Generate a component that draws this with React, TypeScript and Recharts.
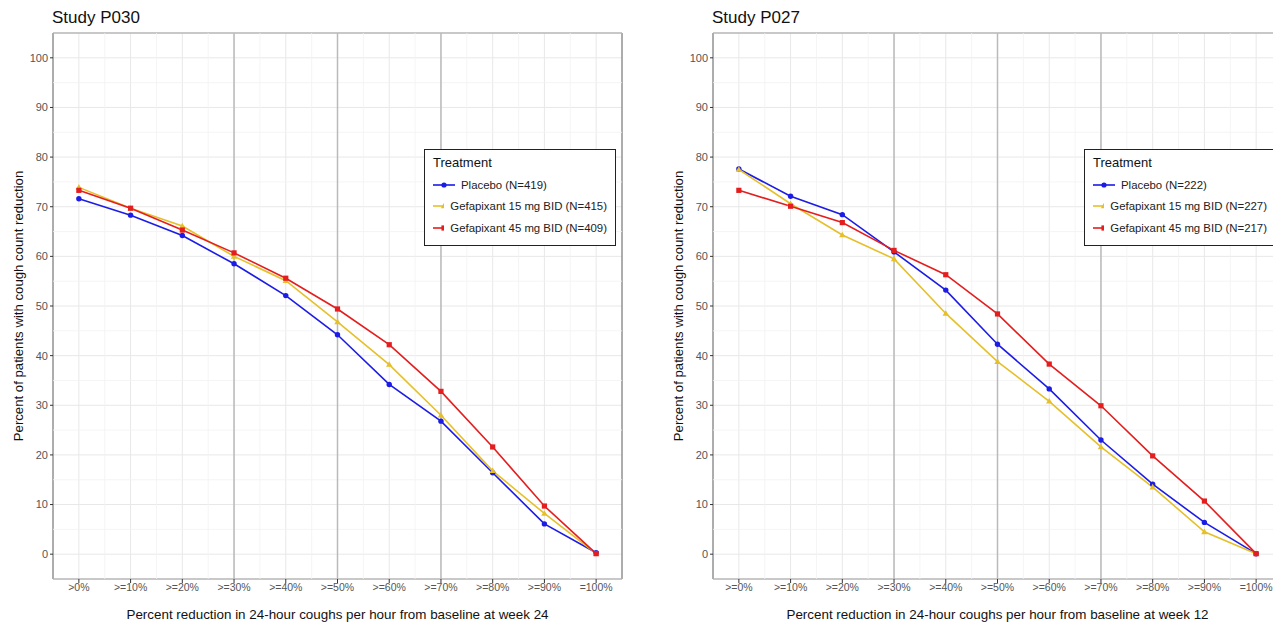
import React from "react"
import { LineChart, Line, XAxis, YAxis, CartesianGrid, ReferenceLine, ReferenceArea, Legend } from "recharts"

// category labels along the x axis
const CATS_P030 = [">0%", ">=10%", ">=20%", ">=30%", ">=40%", ">=50%", ">=60%", ">=70%", ">=80%", ">=90%", "=100%"]
const CATS_P027 = [">=0%", ">=10%", ">=20%", ">=30%", ">=40%", ">=50%", ">=60%", ">=70%", ">=80%", ">=90%", "=100%"]

// percent of patients reaching each reduction threshold
const P030_PLACEBO = [71.6, 68.3, 64.2, 58.5, 52.1, 44.2, 34.2, 26.8, 16.4, 6.1, 0.3]
const P030_G15 = [73.9, 69.7, 66.1, 60.0, 55.1, 46.8, 38.2, 28.0, 16.8, 8.2, 0.1]
const P030_G45 = [73.3, 69.7, 65.3, 60.7, 55.6, 49.4, 42.2, 32.8, 21.6, 9.7, 0.1]

const P027_PLACEBO = [77.6, 72.1, 68.4, 60.9, 53.2, 42.3, 33.3, 23.0, 14.1, 6.4, 0.1]
const P027_G15 = [77.5, 70.6, 64.3, 59.5, 48.5, 38.8, 30.8, 21.6, 13.5, 4.5, 0.1]
const P027_G45 = [73.3, 70.1, 66.8, 61.2, 56.3, 48.4, 38.3, 29.9, 19.8, 10.7, 0.1]

const N_P030 = [419, 415, 409]
const N_P027 = [222, 227, 217]

const Y_TICKS = [0, 10, 20, 30, 40, 50, 60, 70, 80, 90, 100]
const Y_MINOR = [-5, 5, 15, 25, 35, 45, 55, 65, 75, 85, 95, 105]
const X_MINOR = [0.5, 1.5, 2.5, 3.5, 4.5, 5.5, 6.5, 7.5, 8.5, 9.5]
const X_MARKERS = [3, 5, 7]

const BLUE = "#1c1ce6"
const GOLD = "#e6c02a"
const RED = "#e41e1e"
const FONT = "'Liberation Sans', Arial, sans-serif"

const W = 636
const H = 623

const circleDot = (p: any) => (
  <circle key={`c${p.index}`} cx={p.cx} cy={p.cy} r={2.7} fill={BLUE} />
)
const triDot = (p: any) => (
  <path
    key={`t${p.index}`}
    d={`M${p.cx},${p.cy - 3.3}L${p.cx + 3.2},${p.cy + 2.3}L${p.cx - 3.2},${p.cy + 2.3}Z`}
    fill={GOLD}
  />
)
const squareDot = (p: any) => (
  <rect key={`s${p.index}`} x={p.cx - 2.6} y={p.cy - 2.6} width={5.2} height={5.2} fill={RED} />
)

const SERIES = [
  { key: "placebo", name: "Placebo", color: BLUE, dot: circleDot },
  { key: "g15", name: "Gefapixant 15 mg BID", color: GOLD, dot: triDot },
  { key: "g45", name: "Gefapixant 45 mg BID", color: RED, dot: squareDot },
]

function LegendSymbol({ i }: { i: number }) {
  const s = SERIES[i]
  return (
    <svg width={22} height={8} style={{ marginRight: 6 }}>
      <line x1={0} y1={4} x2={22} y2={4} stroke={s.color} strokeWidth={1.6} />
      {i === 0 && <circle cx={11} cy={4} r={2.6} fill={s.color} />}
      {i === 1 && <path d="M11,0.8L14.2,6.3L7.8,6.3Z" fill={s.color} />}
      {i === 2 && <rect x={8.4} y={1.4} width={5.2} height={5.2} fill={s.color} />}
    </svg>
  )
}

function TreatmentLegend({ counts }: { counts: number[] }) {
  return (
    <div
      style={{
        boxSizing: "border-box",
        width: 192,
        height: 97,
        border: "1.4px solid #222",
        background: "#fff",
        padding: "4px 8px 0 8px",
        fontFamily: FONT,
      }}
    >
      <div style={{ fontSize: 13, lineHeight: "18px", color: "#111" }}>Treatment</div>
      <div style={{ marginTop: 2 }}>
        {SERIES.map((s, i) => (
          <div
            key={s.key}
            style={{ display: "flex", alignItems: "center", height: 21.5, fontSize: 11.4, color: "#222", whiteSpace: "nowrap" }}
          >
            <LegendSymbol i={i} />
            <span>{`${s.name} (N=${counts[i]})`}</span>
          </div>
        ))}
      </div>
    </div>
  )
}

interface PanelProps {
  title: string
  cats: string[]
  placebo: number[]
  g15: number[]
  g45: number[]
  counts: number[]
  xTitle: string
  left: number
}

function Panel({ title, cats, placebo, g15, g45, counts, xTitle, left }: PanelProps) {
  const data = cats.map((c, i) => ({ pos: i, label: c, placebo: placebo[i], g15: g15[i], g45: g45[i] }))
  const xTicks = cats.map((_, i) => i)

  const yLabel = (props: any) => {
    const vb = props.viewBox
    const cx = 18
    const cy = vb.y + vb.height / 2
    return (
      <text
        x={cx}
        y={cy}
        transform={`rotate(-90, ${cx}, ${cy})`}
        textAnchor="middle"
        dominantBaseline="central"
        fontSize={13.2}
        fill="#111"
        fontFamily={FONT}
      >
        Percent of patients with cough count reduction
      </text>
    )
  }

  const xLabel = (props: any) => {
    const vb = props.viewBox
    return (
      <text x={vb.x + vb.width / 2} y={619} textAnchor="middle" fontSize={13.4} fill="#111" fontFamily={FONT}>
        {xTitle}
      </text>
    )
  }

  return (
    <div style={{ position: "absolute", left, top: 0, width: W, height: H }}>
      <div
        style={{ position: "absolute", left: 52, top: 8, fontSize: 17, fontFamily: FONT, color: "#111", zIndex: 2 }}
      >
        {title}
      </div>
      <LineChart width={W} height={H} data={data} margin={{ top: 33, right: 14, bottom: 0, left: 0 }}>
        <CartesianGrid stroke="#e8e8e8" strokeWidth={1} />
        {X_MINOR.map((x) => (
          <ReferenceLine key={`xm${x}`} x={x} stroke="#f3f3f3" strokeWidth={0.8} />
        ))}
        {Y_MINOR.map((y) => (
          <ReferenceLine key={`ym${y}`} y={y} stroke="#f3f3f3" strokeWidth={0.8} />
        ))}
        {X_MARKERS.map((x) => (
          <ReferenceLine key={`mk${x}`} x={x} stroke="#bababa" strokeWidth={1.5} />
        ))}
        <ReferenceArea x1={-0.5} x2={10.5} y1={-5} y2={105} fill="none" stroke="#666" strokeWidth={1} />
        <XAxis
          dataKey="pos"
          type="number"
          domain={[-0.5, 10.5]}
          allowDataOverflow
          ticks={xTicks}
          interval={0}
          tickFormatter={(v: number) => cats[v] ?? ""}
          height={44}
          axisLine={false}
          tickSize={4}
          tickMargin={1}
          tickLine={{ stroke: "#333" }}
          tick={{ fontSize: 10.5, fill: "#555", fontFamily: FONT }}
          label={xLabel}
        />
        <YAxis
          type="number"
          domain={[-5, 105]}
          allowDataOverflow
          ticks={Y_TICKS}
          interval={0}
          width={53}
          axisLine={false}
          tickSize={3}
          tickMargin={2}
          tickLine={{ stroke: "#333" }}
          tick={{ fontSize: 11, fill: "#555", fontFamily: FONT }}
          label={yLabel}
        />
        {SERIES.map((s) => (
          <Line
            key={s.key}
            type="linear"
            dataKey={s.key}
            name={s.name}
            stroke={s.color}
            strokeWidth={1.6}
            dot={s.dot}
            activeDot={false}
            isAnimationActive={false}
          />
        ))}
        <Legend
          layout="horizontal"
          align="center"
          verticalAlign="middle"
          wrapperStyle={{ left: 424, top: 149, width: 192, height: 97 }}
          content={() => <TreatmentLegend counts={counts} />}
        />
      </LineChart>
    </div>
  )
}

export default function App() {
  return (
    <div
      style={{ position: "absolute", left: 0, top: 0, width: 1273, height: 623, overflow: "hidden", background: "#fff" }}
    >
      <Panel
        title="Study P030"
        cats={CATS_P030}
        placebo={P030_PLACEBO}
        g15={P030_G15}
        g45={P030_G45}
        counts={N_P030}
        xTitle="Percent reduction in 24-hour coughs per hour from baseline at week 24"
        left={0}
      />
      <Panel
        title="Study P027"
        cats={CATS_P027}
        placebo={P027_PLACEBO}
        g15={P027_G15}
        g45={P027_G45}
        counts={N_P027}
        xTitle="Percent reduction in 24-hour coughs per hour from baseline at week 12"
        left={660}
      />
    </div>
  )
}
